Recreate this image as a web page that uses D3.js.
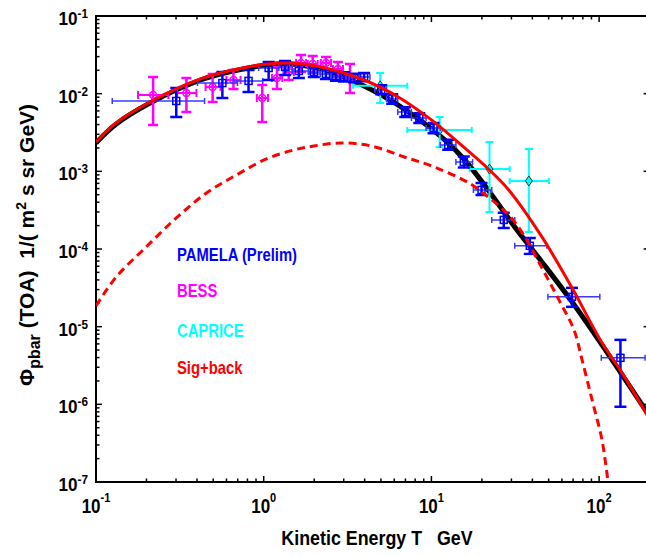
<!DOCTYPE html>
<meta charset="utf-8">
<style>
  body { margin: 0; background: #fff; }
  svg text { font-family: "Liberation Sans", Arial, sans-serif; font-weight: bold; }
</style>
<script src="https://cdn.jsdelivr.net/npm/d3@7"></script>
<div id="chart"></div>
<script>
// PAMELA (prelim) antiproton flux: T (GeV), flux, and error ranges
var pamT   = [0.301, 0.567, 0.812, 1.07, 1.34, 1.62, 1.99, 2.35, 2.70, 3.01, 3.46, 3.97, 5.02, 5.84, 6.98, 8.47, 10.3, 12.6, 15.6, 19.9, 27.0, 38.6, 68.9, 134];
var pamTlo = [0.125, 0.403, 0.66, 0.933, 1.23, 1.48, 1.85, 2.18, 2.52, 2.88, 3.20, 3.70, 4.60, 5.40, 6.30, 7.60, 9.3, 11.3, 14.0, 17.8, 22.9, 31.4, 49.5, 103];
var pamThi = [0.444, 0.698, 0.986, 1.23, 1.48, 1.85, 2.14, 2.52, 2.88, 3.20, 3.70, 4.30, 5.40, 6.30, 7.60, 9.30, 11.3, 14.0, 17.6, 22.9, 31.4, 48.8, 101, 188];
var pamF   = [8.05e-3, 1.37e-2, 1.46e-2, 2.14e-2, 2.21e-2, 1.96e-2, 1.90e-2, 1.79e-2, 1.69e-2, 1.64e-2, 1.59e-2, 1.64e-2, 1.12e-2, 8.55e-3, 5.81e-3, 4.86e-3, 3.62e-3, 2.19e-3, 1.32e-3, 5.76e-4, 2.37e-4, 1.10e-4, 2.42e-5, 3.97e-6];
var pamFlo = [5.0e-3, 8.8e-3, 1.05e-2, 1.50e-2, 1.74e-2, 1.59e-2, 1.64e-2, 1.55e-2, 1.47e-2, 1.43e-2, 1.40e-2, 1.45e-2, 9.8e-3, 7.4e-3, 5.0e-3, 4.2e-3, 3.1e-3, 1.9e-3, 1.12e-3, 4.97e-4, 1.87e-4, 8.65e-5, 1.80e-5, 9.3e-7];
var pamFhi = [1.18e-2, 1.90e-2, 2.02e-2, 2.56e-2, 2.63e-2, 2.34e-2, 2.20e-2, 2.07e-2, 1.95e-2, 1.88e-2, 1.80e-2, 1.85e-2, 1.28e-2, 9.8e-3, 6.7e-3, 5.6e-3, 4.2e-3, 2.55e-3, 1.55e-3, 7.1e-4, 2.92e-4, 1.39e-4, 3.16e-5, 6.76e-6];

// BESS
var bessT   = [0.219, 0.346, 0.496, 0.66, 0.98, 1.20, 1.41, 1.67, 1.96, 2.35, 2.77, 3.27];
var bessTlo = [0.178, 0.305, 0.45, 0.60, 0.91, 1.12, 1.31, 1.56, 1.83, 2.19, 2.59, 3.05];
var bessThi = [0.270, 0.397, 0.553, 0.728, 1.06, 1.29, 1.51, 1.79, 2.10, 2.52, 2.97, 3.50];
var bessF   = [9.6e-3, 1.02e-2, 1.22e-2, 1.50e-2, 8.8e-3, 1.59e-2, 1.90e-2, 2.48e-2, 2.41e-2, 2.48e-2, 2.08e-2, 1.59e-2];
var bessFlo = [3.95e-3, 5.81e-3, 7.8e-3, 1.15e-2, 4.32e-3, 1.15e-2, 1.50e-2, 1.90e-2, 1.85e-2, 1.96e-2, 1.64e-2, 1.02e-2];
var bessFhi = [1.64e-2, 1.59e-2, 1.79e-2, 2.02e-2, 1.29e-2, 2.21e-2, 2.48e-2, 3.15e-2, 3.06e-2, 2.97e-2, 2.56e-2, 2.41e-2];

// CAPRICE
var capT   = [4.95, 11.2, 22.2, 38.1];
var capTlo = [3.41, 7.18, 16.9, 29.3];
var capThi = [7.18, 17.4, 29.3, 50.2];
var capF   = [1.26e-2, 3.41e-3, 1.07e-3, 7.52e-4];
var capFlo = [7.6e-3, 2.06e-3, 3.0e-4, 1.66e-4];
var capFhi = [1.85e-2, 5.0e-3, 2.39e-3, 1.94e-3];

// model curves: background (black), sig+back (red), signal (red dashed)
var backT = [0.1, 0.132, 0.210, 0.420, 0.66, 1.05, 1.45, 1.91, 2.52, 3.32, 5.02, 7.91, 12.0, 15.8, 22.9, 31.4, 45.6, 68.9, 104, 137, 196];
var backF = [2.32e-3, 4.07e-3, 7.59e-3, 1.50e-2, 1.96e-2, 2.34e-2, 2.41e-2, 2.21e-2, 1.90e-2, 1.50e-2, 9.63e-3, 5.16e-3, 2.54e-3, 1.40e-3, 4.97e-4, 1.92e-4, 6.82e-5, 2.09e-5, 5.83e-6, 2.40e-6, 7.55e-7];
var sumT = [0.1, 0.132, 0.210, 0.420, 0.66, 1.05, 1.45, 2.19, 3.97, 6.34, 10, 15.8, 22.2, 28.9, 45.6, 68.9, 104, 137, 196];
var sumF = [2.39e-3, 4.20e-3, 7.82e-3, 1.55e-2, 2.02e-2, 2.41e-2, 2.48e-2, 2.21e-2, 1.50e-2, 9.08e-3, 4.59e-3, 2.0e-3, 1.04e-3, 5.76e-4, 1.43e-4, 3.16e-5, 6.19e-6, 2.54e-6, 6.90e-7];
var sigT = [0.1, 0.132, 0.199, 0.301, 0.456, 0.689, 1.04, 1.51, 1.99, 2.89, 4.37, 6.89, 10.4, 16.7, 19.9, 28.9, 36.1, 45.6, 57.6, 70.8, 79.1, 90.8, 104, 113];
var sigF = [1.85e-5, 4.37e-5, 1.06e-4, 2.51e-4, 5.27e-4, 8.99e-4, 1.45e-3, 1.88e-3, 2.12e-3, 2.32e-3, 2.12e-3, 1.53e-3, 1.14e-3, 7.10e-4, 5.43e-4, 2.75e-4, 1.43e-4, 5.71e-5, 2.21e-5, 9.1e-6, 3.74e-6, 1.14e-6, 3.49e-7, 1e-7];

var xTicks = [0.1, 1, 10, 100];
var xExp = ["-1", "0", "1", "2"];
var yTicks = [1e-1, 1e-2, 1e-3, 1e-4, 1e-5, 1e-6, 1e-7];
var yExp = ["-1", "-2", "-3", "-4", "-5", "-6", "-7"];

var legendNames = ["PAMELA (Prelim)", "BESS", "CAPRICE", "Sig+back"];
var legendColors = ["#0000ff", "#ff00ff", "#00ffff", "#ff0000"];

var width = 646, height = 556;
var pL = 96, pT = 16, pR = 649.6, pB = 482;

var svg = d3.select("#chart").append("svg")
  .attr("width", width)
  .attr("height", height);

var x = d3.scaleLog().domain([0.1, 200]).range([pL, pR]);
var y = d3.scaleLog().domain([1e-7, 1e-1]).range([pB, pT]);

svg.append("defs").append("clipPath").attr("id", "clip")
  .append("rect").attr("x", pL).attr("y", pT)
  .attr("width", pR - pL).attr("height", pB - pT);

// minor / major ticks
var xMinor = [], yMinor = [];
[0.1, 1, 10, 100].forEach(function(d) { for (var k = 2; k <= 9; k++) if (d * k < 200) xMinor.push(d * k); });
[1e-7, 1e-6, 1e-5, 1e-4, 1e-3, 1e-2].forEach(function(d) { for (var k = 2; k <= 9; k++) yMinor.push(d * k); });

var ticks = svg.append("g").attr("stroke", "#000").attr("stroke-width", 1.5);
function xTick(v, len) {
  ticks.append("line").attr("x1", x(v)).attr("x2", x(v)).attr("y1", pB).attr("y2", pB - len);
  ticks.append("line").attr("x1", x(v)).attr("x2", x(v)).attr("y1", pT).attr("y2", pT + len);
}
function yTick(v, len) {
  ticks.append("line").attr("y1", y(v)).attr("y2", y(v)).attr("x1", pL).attr("x2", pL + len);
  ticks.append("line").attr("y1", y(v)).attr("y2", y(v)).attr("x1", pR).attr("x2", pR - len);
}
xMinor.forEach(function(v) { xTick(v, 3.5); });
xTicks.forEach(function(v) { xTick(v, 6); });
yMinor.forEach(function(v) { yTick(v, 3.5); });
yTicks.forEach(function(v) { yTick(v, 6); });

// frame
svg.append("rect")
  .attr("x", pL).attr("y", pT)
  .attr("width", pR - pL).attr("height", pB - pT)
  .attr("fill", "none").attr("stroke", "#000").attr("stroke-width", 2);

// tick labels
xTicks.forEach(function(v, i) {
  var t = svg.append("text")
    .attr("transform", "translate(" + x(v) + ",513) scale(0.85,1)")
    .attr("text-anchor", "middle")
    .attr("font-size", 20);
  t.append("tspan").text("10");
  t.append("tspan").attr("font-size", 13).attr("dy", -11).text(xExp[i]);
});
yTicks.forEach(function(v, i) {
  var t = svg.append("text")
    .attr("transform", "translate(88," + (y(v) + 9) + ") scale(0.9,1)")
    .attr("text-anchor", "end")
    .attr("font-size", 19);
  t.append("tspan").text("10");
  t.append("tspan").attr("font-size", 13).attr("dy", -7).text(yExp[i]);
});

// axis titles
svg.append("text")
  .attr("transform", "translate(377,545) scale(0.85,1)")
  .attr("text-anchor", "middle")
  .attr("font-size", 21)
  .style("white-space", "pre")
  .text("Kinetic Energy T   GeV");

var yl = svg.append("text")
  .attr("transform", "translate(34,245) rotate(-90)")
  .attr("text-anchor", "middle")
  .attr("font-size", 21)
  .style("white-space", "pre");
yl.append("tspan").text("\u03A6");
yl.append("tspan").attr("font-size", 16).attr("dy", 6).text("pbar");
yl.append("tspan").attr("dy", -6).text(" (TOA)  1/( m");
yl.append("tspan").attr("font-size", 14).attr("dy", -8).text("2");
yl.append("tspan").attr("dy", 8).text(" s sr GeV)");

var plot = svg.append("g").attr("clip-path", "url(#clip)");

function toPts(ts, fs) { return ts.map(function(t, i) { return [t, fs[i]]; }); }
var line = d3.line()
  .x(function(d) { return x(d[0]); })
  .y(function(d) { return y(d[1]); })
  .curve(d3.curveCatmullRom.alpha(0.5));

// background (black)
plot.append("path")
  .datum(toPts(backT, backF))
  .attr("fill", "none").attr("stroke", "#000").attr("stroke-width", 5)
  .attr("d", line);

// error bars helper
function errorBars(g, T, Tlo, Thi, F, Flo, Fhi, opt) {
  T.forEach(function(t, i) {
    var cx = x(t), cy = y(F[i]);
    // horizontal
    g.append("line").attr("x1", x(Tlo[i])).attr("x2", x(Thi[i])).attr("y1", cy).attr("y2", cy)
      .attr("stroke", opt.hcolor).attr("stroke-width", opt.hw);
    [Tlo[i], Thi[i]].forEach(function(e) {
      g.append("line").attr("x1", x(e)).attr("x2", x(e)).attr("y1", cy - opt.hcap).attr("y2", cy + opt.hcap)
        .attr("stroke", opt.hcolor).attr("stroke-width", opt.hw);
    });
    // vertical
    g.append("line").attr("x1", cx).attr("x2", cx).attr("y1", y(Flo[i])).attr("y2", y(Fhi[i]))
      .attr("stroke", opt.vcolor).attr("stroke-width", opt.vw);
    [Flo[i], Fhi[i]].forEach(function(e) {
      g.append("line").attr("x1", cx - opt.vcap).attr("x2", cx + opt.vcap).attr("y1", y(e)).attr("y2", y(e))
        .attr("stroke", opt.vcolor).attr("stroke-width", opt.vw);
    });
  });
}

// CAPRICE
var capG = plot.append("g");
errorBars(capG, capT, capTlo, capThi, capF, capFlo, capFhi,
  {hcolor: "#00ffff", hw: 2, hcap: 3, vcolor: "#00ffff", vw: 2, vcap: 4});
capG.selectAll("path.dia").data(capT).enter().append("path")
  .attr("d", function(t, i) {
    var cx = x(t), cy = y(capF[i]);
    return "M" + cx + "," + (cy - 5) + "L" + (cx + 3.5) + "," + cy + "L" + cx + "," + (cy + 5) + "L" + (cx - 3.5) + "," + cy + "Z";
  })
  .attr("fill", "#00ffff").attr("stroke", "#004040").attr("stroke-width", 1);

// BESS
var bessG = plot.append("g");
errorBars(bessG, bessT, bessTlo, bessThi, bessF, bessFlo, bessFhi,
  {hcolor: "#ff00ff", hw: 2, hcap: 4, vcolor: "#ff00ff", vw: 2.5, vcap: 5});
bessG.selectAll("circle").data(bessT).enter().append("circle")
  .attr("cx", function(t) { return x(t); })
  .attr("cy", function(t, i) { return y(bessF[i]); })
  .attr("r", 3.5)
  .attr("fill", "none").attr("stroke", "#ff00ff").attr("stroke-width", 1.5);

// PAMELA
var pamG = plot.append("g");
errorBars(pamG, pamT, pamTlo, pamThi, pamF, pamFlo, pamFhi,
  {hcolor: "#3a3aff", hw: 1.5, hcap: 3, vcolor: "#0000ff", vw: 2.5, vcap: 6});
pamG.selectAll("rect").data(pamT).enter().append("rect")
  .attr("x", function(t) { return x(t) - 3.5; })
  .attr("y", function(t, i) { return y(pamF[i]) - 3.5; })
  .attr("width", 7).attr("height", 7)
  .attr("fill", "none").attr("stroke", "#0000ff").attr("stroke-width", 1.5);

// signal + background (red solid)
plot.append("path")
  .datum(toPts(sumT, sumF))
  .attr("fill", "none").attr("stroke", "#ff0000").attr("stroke-width", 3)
  .attr("d", line);

// signal only (red dashed)
plot.append("path")
  .datum(toPts(sigT, sigF))
  .attr("fill", "none").attr("stroke", "#ff0000").attr("stroke-width", 3)
  .attr("stroke-dasharray", "8,5")
  .attr("d", line);

// legend (coloured text only)
var legendY = [261, 297, 337, 374];
legendNames.forEach(function(name, i) {
  svg.append("text")
    .attr("transform", "translate(177," + legendY[i] + ") scale(0.8,1)")
    .attr("font-size", 18.5)
    .attr("fill", legendColors[i])
    .text(name);
});
</script>
